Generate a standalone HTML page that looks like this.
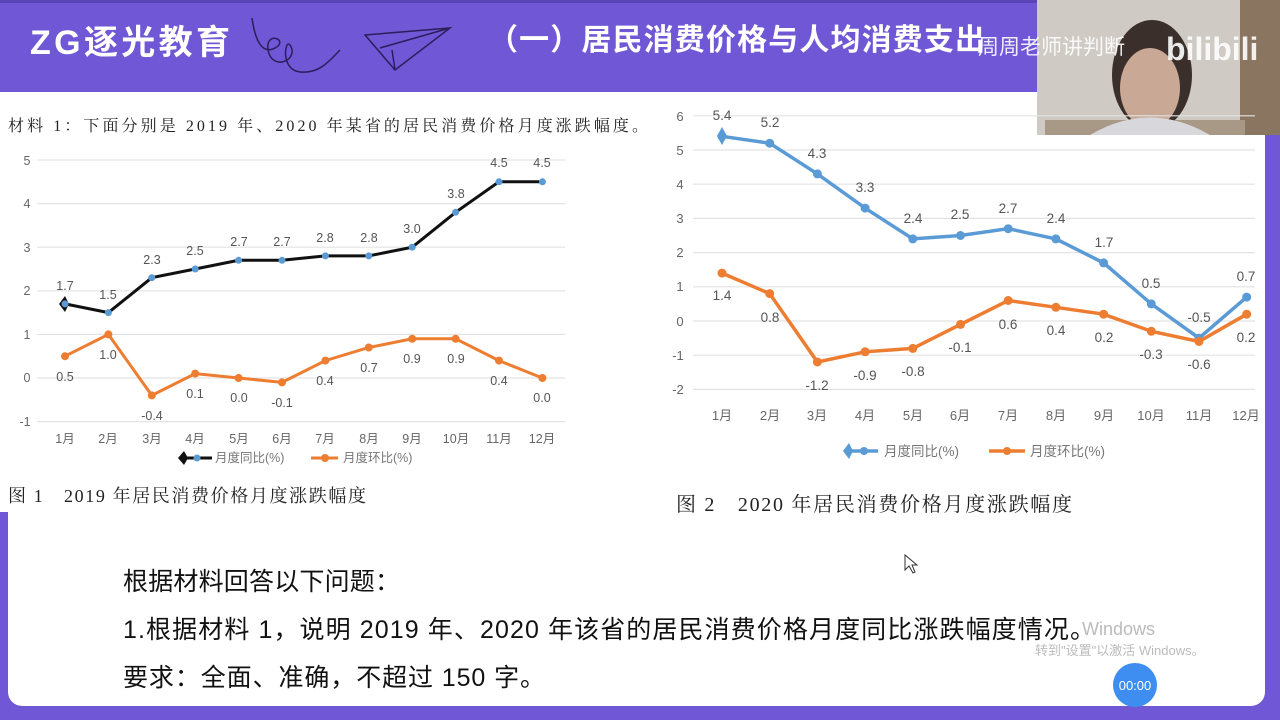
<!DOCTYPE html>
<html><head><meta charset="utf-8"><style>
html,body{margin:0;padding:0;width:1280px;height:720px;overflow:hidden;background:#6f57d6;}
svg{position:absolute;left:0;top:0}
</style></head><body>
<svg width="1280" height="720" viewBox="0 0 1280 720" xmlns="http://www.w3.org/2000/svg" font-family="'Liberation Sans','Noto Sans CJK SC',sans-serif">
<rect x="0" y="0" width="1280" height="3" fill="#5a45b8"/>
<rect x="8" y="92" width="1257" height="614" rx="14" fill="#fff"/>
<rect x="0" y="92" width="670" height="420" fill="#fff"/>
<!-- header -->
<text x="30" y="54" font-size="34" font-weight="bold" fill="#fff" textLength="200">ZG逐光教育</text>
<path d="M252 18 C255 40 262 55 275 48 C290 40 265 30 268 50 C272 72 300 60 290 45 C285 38 280 70 300 72 C320 74 330 60 340 50" stroke="#2a1f5a" stroke-width="1.5" fill="none"/>
<path d="M365 35 L450 28 L395 70 Z M450 28 L380 48 M395 70 L392 50" stroke="#2a1f5a" stroke-width="1.5" fill="none"/>
<text x="488" y="50" font-size="30" font-weight="bold" fill="#fff" textLength="497">（一）居民消费价格与人均消费支出</text>
<!-- webcam -->
<rect x="1037" y="0" width="243" height="135" fill="#cfcac3"/>
<rect x="1240" y="0" width="40" height="135" fill="#8a7560"/>
<rect x="1045" y="120" width="200" height="15" fill="#a89886"/>
<ellipse cx="1152" cy="75" rx="40" ry="55" fill="#3a2f2a"/>
<ellipse cx="1150" cy="88" rx="30" ry="40" fill="#c9a896"/>
<path d="M1090 135 Q1150 100 1210 135 Z" fill="#d8d8dc"/>
<text x="978" y="54" font-size="21" fill="#fff" opacity="0.9">周周老师讲判断</text>
<text x="1166" y="60" font-size="32" font-weight="bold" fill="#fff" opacity="0.9">bilibili</text>
<!-- chart 1 -->
<text x="8" y="131" font-size="16" fill="#222" textLength="640" font-family="'Liberation Serif','Noto Serif CJK SC',serif">材料 1：下面分别是 2019 年、2020 年某省的居民消费价格月度涨跌幅度。</text>
<g stroke="#e3e3e3" stroke-width="1.2">
<line x1="37" x2="565" y1="160" y2="160"/><line x1="37" x2="565" y1="203.6" y2="203.6"/><line x1="37" x2="565" y1="247.2" y2="247.2"/><line x1="37" x2="565" y1="290.8" y2="290.8"/><line x1="37" x2="565" y1="334.4" y2="334.4"/><line x1="37" x2="565" y1="378" y2="378"/><line x1="37" x2="565" y1="421.6" y2="421.6"/>
</g>
<g font-size="12.5" fill="#666" text-anchor="middle">
<text x="27" y="165">5</text><text x="27" y="208">4</text><text x="27" y="252">3</text><text x="27" y="295">2</text><text x="27" y="339">1</text><text x="27" y="382">0</text><text x="25" y="426">-1</text>
<text x="65" y="443">1月</text><text x="108" y="443">2月</text><text x="152" y="443">3月</text><text x="195" y="443">4月</text><text x="239" y="443">5月</text><text x="282" y="443">6月</text><text x="325" y="443">7月</text><text x="369" y="443">8月</text><text x="412" y="443">9月</text><text x="456" y="443">10月</text><text x="499" y="443">11月</text><text x="542" y="443">12月</text>
</g>
<polyline fill="none" stroke="#111" stroke-width="3" points="65,303.9 108.4,312.6 151.8,277.7 195.2,269 238.6,260.3 282,260.3 325.4,255.9 368.8,255.9 412.2,247.2 455.6,212.3 499,181.8 542.4,181.8"/>
<path d="M59 304 L65 296 L69 304 L65 312Z" fill="#111"/>
<g fill="#5b9bd5"><circle cx="65" cy="303.9" r="3.5"/><circle cx="108.4" cy="312.6" r="3.5"/><circle cx="151.8" cy="277.7" r="3.5"/><circle cx="195.2" cy="269" r="3.5"/><circle cx="238.6" cy="260.3" r="3.5"/><circle cx="282" cy="260.3" r="3.5"/><circle cx="325.4" cy="255.9" r="3.5"/><circle cx="368.8" cy="255.9" r="3.5"/><circle cx="412.2" cy="247.2" r="3.5"/><circle cx="455.6" cy="212.3" r="3.5"/><circle cx="499" cy="181.8" r="3.5"/><circle cx="542.4" cy="181.8" r="3.5"/></g>
<polyline fill="none" stroke="#ed7d31" stroke-width="3" points="65,356.2 108.4,334.4 151.8,395.4 195.2,373.6 238.6,378 282,382.4 325.4,360.6 368.8,347.5 412.2,338.8 455.6,338.8 499,360.6 542.4,378"/>
<g fill="#ed7d31"><circle cx="65" cy="356.2" r="4"/><circle cx="108.4" cy="334.4" r="4"/><circle cx="151.8" cy="395.4" r="4"/><circle cx="195.2" cy="373.6" r="4"/><circle cx="238.6" cy="378" r="4"/><circle cx="282" cy="382.4" r="4"/><circle cx="325.4" cy="360.6" r="4"/><circle cx="368.8" cy="347.5" r="4"/><circle cx="412.2" cy="338.8" r="4"/><circle cx="455.6" cy="338.8" r="4"/><circle cx="499" cy="360.6" r="4"/><circle cx="542.4" cy="378" r="4"/></g>
<g font-size="12.5" fill="#555" text-anchor="middle">
<text x="65" y="290">1.7</text><text x="108" y="299">1.5</text><text x="152" y="264">2.3</text><text x="195" y="255">2.5</text><text x="239" y="246">2.7</text><text x="282" y="246">2.7</text><text x="325" y="242">2.8</text><text x="369" y="242">2.8</text><text x="412" y="233">3.0</text><text x="456" y="198">3.8</text><text x="499" y="167">4.5</text><text x="542" y="167">4.5</text>
<text x="65" y="381">0.5</text><text x="108" y="359">1.0</text><text x="152" y="420">-0.4</text><text x="195" y="398">0.1</text><text x="239" y="402">0.0</text><text x="282" y="407">-0.1</text><text x="325" y="385">0.4</text><text x="369" y="372">0.7</text><text x="412" y="363">0.9</text><text x="456" y="363">0.9</text><text x="499" y="385">0.4</text><text x="542" y="402">0.0</text>
</g>
<line x1="180" x2="212" y1="458" y2="458" stroke="#111" stroke-width="3"/><path d="M178 458 L184 451 L188 458 L184 465Z" fill="#111"/><circle cx="197" cy="458" r="3.5" fill="#5b9bd5"/>
<text x="215" y="462" font-size="12.5" fill="#777">月度同比(%)</text>
<line x1="311" x2="338" y1="458" y2="458" stroke="#ed7d31" stroke-width="3"/><circle cx="325" cy="458" r="4" fill="#ed7d31"/>
<text x="343" y="462" font-size="12.5" fill="#777">月度环比(%)</text>
<text x="8" y="502" font-size="18" fill="#222" textLength="358" font-family="'Liberation Serif','Noto Serif CJK SC',serif">图 1　2019 年居民消费价格月度涨跌幅度</text>
<!-- chart 2 -->
<g stroke="#e3e3e3" stroke-width="1.2">
<line x1="693" x2="1255" y1="115.8" y2="115.8"/><line x1="693" x2="1255" y1="150" y2="150"/><line x1="693" x2="1255" y1="184.2" y2="184.2"/><line x1="693" x2="1255" y1="218.4" y2="218.4"/><line x1="693" x2="1255" y1="252.6" y2="252.6"/><line x1="693" x2="1255" y1="286.8" y2="286.8"/><line x1="693" x2="1255" y1="321" y2="321"/><line x1="693" x2="1255" y1="355.2" y2="355.2"/><line x1="693" x2="1255" y1="389.4" y2="389.4"/>
</g>
<g font-size="13" fill="#666" text-anchor="middle">
<text x="680" y="121">6</text><text x="680" y="155">5</text><text x="680" y="189">4</text><text x="680" y="223">3</text><text x="680" y="257">2</text><text x="680" y="291">1</text><text x="680" y="326">0</text><text x="678" y="360">-1</text><text x="678" y="394">-2</text>
<text x="722" y="420">1月</text><text x="770" y="420">2月</text><text x="817" y="420">3月</text><text x="865" y="420">4月</text><text x="913" y="420">5月</text><text x="960" y="420">6月</text><text x="1008" y="420">7月</text><text x="1056" y="420">8月</text><text x="1104" y="420">9月</text><text x="1151" y="420">10月</text><text x="1199" y="420">11月</text><text x="1246" y="420">12月</text>
</g>
<polyline fill="none" stroke="#5b9bd5" stroke-width="3.5" points="722,136.3 769.7,143.2 817.4,173.9 865.1,208.1 912.8,238.9 960.5,235.5 1008.2,228.7 1055.9,238.9 1103.6,262.9 1151.3,303.9 1199,338.1 1246.7,297.1"/>
<path d="M717 136 L722 127 L727 136 L722 145Z" fill="#5b9bd5"/>
<g fill="#5b9bd5"><circle cx="722" cy="136.3" r="4.5"/><circle cx="769.7" cy="143.2" r="4.5"/><circle cx="817.4" cy="173.9" r="4.5"/><circle cx="865.1" cy="208.1" r="4.5"/><circle cx="912.8" cy="238.9" r="4.5"/><circle cx="960.5" cy="235.5" r="4.5"/><circle cx="1008.2" cy="228.7" r="4.5"/><circle cx="1055.9" cy="238.9" r="4.5"/><circle cx="1103.6" cy="262.9" r="4.5"/><circle cx="1151.3" cy="303.9" r="4.5"/><circle cx="1199" cy="338.1" r="4.5"/><circle cx="1246.7" cy="297.1" r="4.5"/></g>
<polyline fill="none" stroke="#ed7d31" stroke-width="3.5" points="722,273.1 769.7,293.6 817.4,362 865.1,351.8 912.8,348.4 960.5,324.4 1008.2,300.5 1055.9,307.3 1103.6,314.2 1151.3,331.3 1199,341.5 1246.7,314.2"/>
<g fill="#ed7d31"><circle cx="722" cy="273.1" r="4.5"/><circle cx="769.7" cy="293.6" r="4.5"/><circle cx="817.4" cy="362" r="4.5"/><circle cx="865.1" cy="351.8" r="4.5"/><circle cx="912.8" cy="348.4" r="4.5"/><circle cx="960.5" cy="324.4" r="4.5"/><circle cx="1008.2" cy="300.5" r="4.5"/><circle cx="1055.9" cy="307.3" r="4.5"/><circle cx="1103.6" cy="314.2" r="4.5"/><circle cx="1151.3" cy="331.3" r="4.5"/><circle cx="1199" cy="341.5" r="4.5"/><circle cx="1246.7" cy="314.2" r="4.5"/></g>
<g font-size="13.5" fill="#555" text-anchor="middle">
<text x="722" y="120">5.4</text><text x="770" y="127">5.2</text><text x="817" y="158">4.3</text><text x="865" y="192">3.3</text><text x="913" y="223">2.4</text><text x="960" y="219">2.5</text><text x="1008" y="213">2.7</text><text x="1056" y="223">2.4</text><text x="1104" y="247">1.7</text><text x="1151" y="288">0.5</text><text x="1199" y="322">-0.5</text><text x="1246" y="281">0.7</text>
<text x="722" y="300">1.4</text><text x="770" y="322">0.8</text><text x="817" y="390">-1.2</text><text x="865" y="380">-0.9</text><text x="913" y="376">-0.8</text><text x="960" y="352">-0.1</text><text x="1008" y="329">0.6</text><text x="1056" y="335">0.4</text><text x="1104" y="342">0.2</text><text x="1151" y="359">-0.3</text><text x="1199" y="369">-0.6</text><text x="1246" y="342">0.2</text>
</g>
<line x1="845" x2="878" y1="451" y2="451" stroke="#5b9bd5" stroke-width="3.5"/><path d="M843 451 L849 443 L853 451 L849 459Z" fill="#5b9bd5"/><circle cx="864" cy="451" r="4" fill="#5b9bd5"/>
<text x="884" y="456" font-size="13.5" fill="#777">月度同比(%)</text>
<line x1="989" x2="1025" y1="451" y2="451" stroke="#ed7d31" stroke-width="3.5"/><circle cx="1007" cy="451" r="4" fill="#ed7d31"/>
<text x="1030" y="456" font-size="13.5" fill="#777">月度环比(%)</text>
<text x="676" y="511" font-size="20" fill="#222" textLength="396" font-family="'Liberation Serif','Noto Serif CJK SC',serif">图 2　2020 年居民消费价格月度涨跌幅度</text>
<!-- question -->
<g font-size="25" fill="#111">
<text x="123" y="590" textLength="277">根据材料回答以下问题：</text>
<text x="123" y="638" textLength="972">1.根据材料 1，说明 2019 年、2020 年该省的居民消费价格月度同比涨跌幅度情况。</text>
<text x="123" y="686" textLength="422">要求：全面、准确，不超过 150 字。</text>
</g>
<text x="1082" y="635" font-size="18" fill="#bbb">Windows</text>
<text x="1035" y="655" font-size="13" fill="#bbb">转到"设置"以激活 Windows。</text>
<path d="M905 555 L905 570 L909 566 L913 573 L915 572 L912 565 L917 565 Z" fill="#fff" stroke="#333" stroke-width="1"/>
<circle cx="1135" cy="685" r="22" fill="#3d8ef0"/>
<text x="1135" y="690" font-size="13" fill="#fff" text-anchor="middle">00:00</text>
</svg>
</body></html>
